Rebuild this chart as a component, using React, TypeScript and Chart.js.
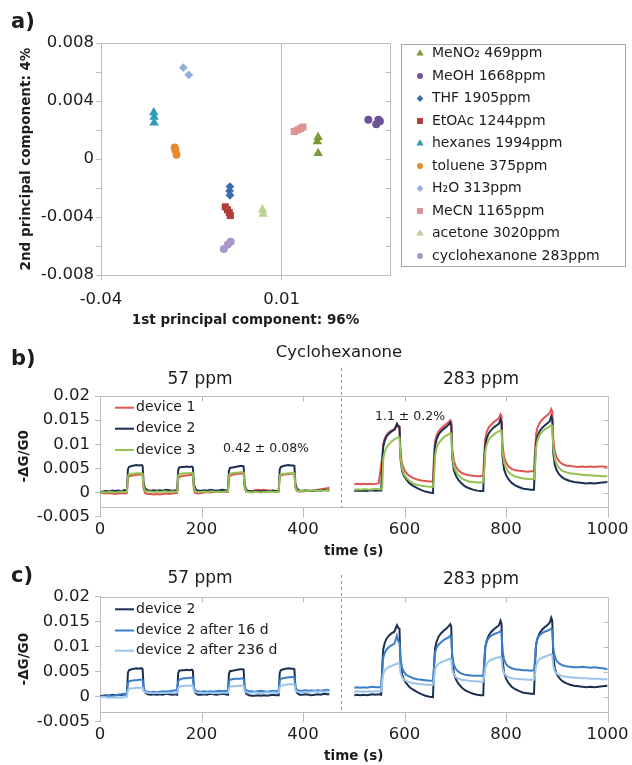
import React, { useEffect, useRef } from 'react';
import { Chart, registerables } from 'chart.js';

Chart.register(...registerables);

const SANS = '"DejaVu Sans", "Liberation Sans", sans-serif';
const INK = '#1c1c1c';
const FRAME = '#bdbdbd';

Chart.defaults.font.family = SANS;
Chart.defaults.color = INK;

// ---------- a) PCA scores (PC1, PC2) ----------
const pcaMeNO2 = [[0.0201, 0.0015], [0.0199, 0.0012], [0.0201, 0.0004]];
const pcaMeOH = [[0.034, 0.0027], [0.0362, 0.0024], [0.0368, 0.0027], [0.0372, 0.0026]];
const pcaTHF = [[-0.0043, -0.0019], [-0.0044, -0.0022], [-0.0043, -0.0025]];
const pcaEtOAc = [[-0.0056, -0.0033], [-0.005, -0.0035], [-0.0045, -0.0037], [-0.0042, -0.0039]];
const pcaHexanes = [[-0.0254, 0.0032], [-0.0253, 0.0029], [-0.0253, 0.0025]];
const pcaToluene = [[-0.0196, 0.0008], [-0.0194, 0.0006], [-0.0191, 0.0003]];
const pcaH2O = [[-0.0172, 0.0063], [-0.0157, 0.0058]];
const pcaMeCN = [[0.0135, 0.0019], [0.0144, 0.002], [0.0152, 0.0021], [0.0159, 0.0022]];
const pcaAcetone = [[0.0047, -0.0035], [0.0049, -0.0038]];
const pcaCyclohexanone = [[-0.006, -0.0062], [-0.0049, -0.0059], [-0.0041, -0.0057]];

const solventNames = [
  'MeNO₂ 469ppm', 'MeOH 1668ppm', 'THF 1905ppm', 'EtOAc 1244ppm', 'hexanes 1994ppm',
  'toluene 375ppm', 'H₂O 313ppm', 'MeCN 1165ppm', 'acetone 3020ppm', 'cyclohexanone 283ppm',
];
const solventScores = [
  pcaMeNO2, pcaMeOH, pcaTHF, pcaEtOAc, pcaHexanes,
  pcaToluene, pcaH2O, pcaMeCN, pcaAcetone, pcaCyclohexanone,
];
const solventColors = [
  '#7a9a35', '#6d529a', '#3a6db2', '#b33d38', '#2e9cba',
  '#e8892f', '#93b0da', '#dc9391', '#b9d290', '#a898c8',
];
const solventMarkers = [
  'triangle', 'circle', 'rectRot', 'rect', 'triangle',
  'circle', 'rectRot', 'rect', 'triangle', 'circle',
];

const pcaXTicks = [-0.04, 0.01];
const pcaXTickLabels = ['-0.04', '0.01'];
const pcaYTicks = [-0.008, -0.006, -0.004, -0.002, 0, 0.002, 0.004, 0.006, 0.008];
const pcaYTickLabels = ['-0.008', '', '-0.004', '', '0', '', '0.004', '', '0.008'];

// ---------- b), c) sensor responses, -ΔG/G0 versus time (s) ----------
const tLow = [
  0, 6, 12, 18, 24, 30, 36, 42, 48, 53,
  55, 57, 62, 67, 72, 77, 82, 84, 86, 89, 94,
  100, 106, 112, 118, 124, 130, 136, 142, 148, 152,
  154, 156, 161, 166, 171, 176, 181, 183, 185, 188, 193,
  199, 205, 211, 217, 223, 229, 235, 241, 247, 252,
  254, 256, 261, 266, 271, 276, 281, 283, 285, 288, 293,
  299, 305, 311, 317, 323, 329, 335, 341, 347, 352,
  354, 356, 361, 366, 371, 376, 381, 383, 385, 388, 393,
  399, 405, 411, 417, 423, 429, 435, 441, 447, 452,
];
const tHigh = [
  501, 507, 513, 519, 525, 531, 537, 543, 549, 554,
  556, 558, 561, 565, 570, 575, 580, 585, 588, 590,
  592, 595, 599, 604, 610, 617, 625, 633, 641, 649, 656,
  658, 660, 663, 667, 672, 677, 682, 687, 690, 692,
  694, 697, 701, 706, 712, 719, 727, 735, 743, 750, 755,
  757, 759, 762, 766, 771, 776, 781, 786, 789, 791,
  793, 796, 800, 805, 811, 818, 826, 834, 842, 849, 855,
  857, 859, 862, 866, 871, 876, 881, 886, 889, 891,
  893, 896, 900, 905, 911, 918, 926, 934, 942, 950, 958, 966, 974, 982, 990, 1000,
];

// device 1, 57 ppm / 283 ppm
const dev1Low = [
  0, -0.0001, -0.0002, -0.0001, -0.0002, -0.0003, -0.0002, -0.0001, -0.0002, -0.0001,
  0.003, 0.0034, 0.0035, 0.0036, 0.0037, 0.0037, 0.0038, 0.0036, 0.0008, -0.0001, -0.0003,
  -0.0003, -0.0004, -0.0003, -0.0004, -0.0003, -0.0002, -0.0003, -0.0002, -0.0001, -0.0001,
  0.0028, 0.0032, 0.0034, 0.0035, 0.0036, 0.0036, 0.0037, 0.0036, 0.0006, -0.0001, -0.0002,
  -0.0001, 0, 0.0001, 0, 0.0001, 0.0002, 0.0001, 0.0002, 0.0001, 0.0001,
  0.003, 0.0035, 0.0037, 0.0038, 0.0039, 0.0039, 0.004, 0.0039, 0.0009, 0.0002, 0.0002,
  0.0003, 0.0005, 0.0006, 0.0005, 0.0006, 0.0005, 0.0004, 0.0003, 0.0002, 0.0002,
  0.0032, 0.0036, 0.0037, 0.0038, 0.0038, 0.0039, 0.0039, 0.0038, 0.001, 0.0003, 0.0002,
  0.0002, 0.0003, 0.0004, 0.0004, 0.0005, 0.0006, 0.0007, 0.0008, 0.0009, 0.001,
];
const dev1High = [
  0.0017, 0.0018, 0.0017, 0.0018, 0.0017, 0.0018, 0.0017, 0.0018, 0.0019, 0.0058,
  0.0075, 0.01, 0.0112, 0.012, 0.0126, 0.0129, 0.0132, 0.0136, 0.0138, 0.0137,
  0.0085, 0.006, 0.0048, 0.004, 0.0034, 0.003, 0.0027, 0.0025, 0.0024, 0.0023, 0.0023,
  0.0075, 0.0105, 0.0118, 0.0127, 0.0133, 0.0138, 0.0142, 0.0146, 0.015, 0.0147,
  0.009, 0.0066, 0.0054, 0.0046, 0.0041, 0.0038, 0.0036, 0.0035, 0.0034, 0.0034, 0.0035,
  0.008, 0.0112, 0.0126, 0.0135, 0.0141, 0.0146, 0.015, 0.0154, 0.0162, 0.0158,
  0.0098, 0.0074, 0.0062, 0.0054, 0.0049, 0.0046, 0.0045, 0.0044, 0.0043, 0.0044, 0.0044,
  0.0085, 0.012, 0.0135, 0.0144, 0.0151, 0.0156, 0.016, 0.0165, 0.0173, 0.0168,
  0.011, 0.0085, 0.0072, 0.0064, 0.0059, 0.0056, 0.0055, 0.0054, 0.0053, 0.0054, 0.0053, 0.0054, 0.0053, 0.0054, 0.0054, 0.0053,
];

// device 2 (fresh), 57 ppm / 283 ppm
const dev2Low = [
  0.0001, 0.0002, 0.0003, 0.0002, 0.0004, 0.0003, 0.0004, 0.0003, 0.0005, 0.0004,
  0.0048, 0.0053, 0.0055, 0.0056, 0.0057, 0.0056, 0.0057, 0.0055, 0.0018, 0.0008, 0.0005,
  0.0004, 0.0005, 0.0004, 0.0005, 0.0004, 0.0006, 0.0005, 0.0004, 0.0005, 0.0004,
  0.0047, 0.0052, 0.0053, 0.0053, 0.0054, 0.0053, 0.0054, 0.0052, 0.0017, 0.0007, 0.0004,
  0.0004, 0.0005, 0.0004, 0.0006, 0.0005, 0.0004, 0.0005, 0.0006, 0.0005, 0.0004,
  0.0045, 0.0051, 0.0052, 0.0053, 0.0054, 0.0055, 0.0055, 0.0054, 0.0016, 0.0006, 0.0003,
  0.0002, 0.0002, 0.0003, 0.0002, 0.0003, 0.0002, 0.0003, 0.0004, 0.0003, 0.0003,
  0.0047, 0.0053, 0.0055, 0.0056, 0.0057, 0.0056, 0.0056, 0.0055, 0.0018, 0.0008, 0.0004,
  0.0004, 0.0005, 0.0004, 0.0003, 0.0004, 0.0005, 0.0004, 0.0006, 0.0005, 0.0005,
];
const dev2High = [
  0.0003, 0.0004, 0.0003, 0.0004, 0.0003, 0.0004, 0.0005, 0.0004, 0.0005, 0.0004,
  0.006, 0.0095, 0.0108, 0.0117, 0.0123, 0.0127, 0.013, 0.0143, 0.0137, 0.0136,
  0.007, 0.0045, 0.0034, 0.0026, 0.0019, 0.0014, 0.0009, 0.0005, 0.0002, 0, -0.0001,
  0.006, 0.0096, 0.011, 0.012, 0.0127, 0.0132, 0.0136, 0.0141, 0.0145, 0.014,
  0.0072, 0.0047, 0.0035, 0.0026, 0.0019, 0.0013, 0.0009, 0.0006, 0.0004, 0.0003, 0.0003,
  0.0062, 0.0098, 0.0113, 0.0123, 0.013, 0.0135, 0.0139, 0.0143, 0.0152, 0.0146,
  0.0074, 0.0048, 0.0036, 0.0027, 0.002, 0.0015, 0.0011, 0.0008, 0.0007, 0.0006, 0.0006,
  0.0065, 0.0102, 0.0117, 0.0127, 0.0134, 0.0139, 0.0143, 0.0148, 0.0158, 0.0152,
  0.0082, 0.0057, 0.0045, 0.0037, 0.0031, 0.0027, 0.0024, 0.0022, 0.0021, 0.002, 0.0019, 0.002, 0.0019, 0.002, 0.0021, 0.0022,
];

// device 3, 57 ppm / 283 ppm
const dev3Low = [
  0, 0.0001, 0, 0.0001, 0.0001, 0, 0.0001, 0.0002, 0.0001, 0.0001,
  0.0034, 0.0038, 0.0039, 0.0039, 0.004, 0.004, 0.004, 0.0039, 0.0012, 0.0004, 0.0002,
  0.0002, 0.0001, 0.0002, 0.0001, 0.0002, 0.0002, 0.0001, 0.0002, 0.0002, 0.0001,
  0.0034, 0.0038, 0.0039, 0.004, 0.004, 0.004, 0.0041, 0.004, 0.0011, 0.0003, 0.0001,
  0.0001, 0.0002, 0.0001, 0.0002, 0.0002, 0.0001, 0.0002, 0.0001, 0.0002, 0.0002,
  0.0035, 0.0039, 0.004, 0.0041, 0.0041, 0.0042, 0.0042, 0.0041, 0.0012, 0.0003, 0.0001,
  0, 0.0001, 0.0001, 0, 0.0001, 0.0001, 0.0002, 0.0001, 0.0001, 0.0002,
  0.0035, 0.0038, 0.0039, 0.0039, 0.004, 0.004, 0.004, 0.004, 0.0012, 0.0004, 0.0003,
  0.0003, 0.0004, 0.0003, 0.0004, 0.0005, 0.0004, 0.0005, 0.0004, 0.0005, 0.0005,
];
const dev3High = [
  0.0006, 0.0007, 0.0006, 0.0007, 0.0007, 0.0006, 0.0007, 0.0008, 0.0007, 0.0007,
  0.001, 0.007, 0.0085, 0.0094, 0.0101, 0.0106, 0.011, 0.0113, 0.0115, 0.0114,
  0.0075, 0.005, 0.0038, 0.003, 0.0024, 0.0019, 0.0016, 0.0014, 0.0013, 0.0012, 0.0012,
  0.003, 0.0075, 0.0092, 0.0102, 0.0109, 0.0114, 0.0118, 0.0121, 0.0123, 0.0122,
  0.0078, 0.0055, 0.0044, 0.0036, 0.003, 0.0026, 0.0023, 0.0022, 0.0021, 0.0021, 0.0021,
  0.0045, 0.0085, 0.01, 0.011, 0.0116, 0.012, 0.0124, 0.0127, 0.0129, 0.0128,
  0.0085, 0.0062, 0.005, 0.0042, 0.0037, 0.0033, 0.0031, 0.0029, 0.0028, 0.0028, 0.0028,
  0.005, 0.0092, 0.0109, 0.0119, 0.0126, 0.0131, 0.0134, 0.0137, 0.014, 0.0138,
  0.0095, 0.007, 0.0058, 0.005, 0.0045, 0.0042, 0.004, 0.0039, 0.0038, 0.0037, 0.0036, 0.0036, 0.0035, 0.0035, 0.0034, 0.0034,
];

// device 2 after 16 days
const aged16Low = [
  0, 0, 0.0001, 0.0002, 0.0001, 0.0003, 0.0004, 0.0005, 0.0006, 0.0006,
  0.0027, 0.0031, 0.0032, 0.0033, 0.0033, 0.0034, 0.0034, 0.0033, 0.0016, 0.0011, 0.001,
  0.0009, 0.001, 0.0009, 0.001, 0.0011, 0.001, 0.0011, 0.0012, 0.0013, 0.0012,
  0.003, 0.0034, 0.0036, 0.0037, 0.0037, 0.0038, 0.0038, 0.0037, 0.0018, 0.0012, 0.0011,
  0.001, 0.0011, 0.001, 0.0011, 0.001, 0.0011, 0.0012, 0.0011, 0.0012, 0.0011,
  0.003, 0.0034, 0.0035, 0.0036, 0.0036, 0.0036, 0.0037, 0.0036, 0.0018, 0.0013, 0.0011,
  0.0011, 0.001, 0.0011, 0.0012, 0.0011, 0.001, 0.0011, 0.0012, 0.0011, 0.0012,
  0.0032, 0.0036, 0.0037, 0.0038, 0.0039, 0.0039, 0.004, 0.0039, 0.0019, 0.0013, 0.0012,
  0.0012, 0.0013, 0.0012, 0.0013, 0.0012, 0.0013, 0.0012, 0.0013, 0.0014, 0.0013,
];
const aged16High = [
  0.0018, 0.0019, 0.0018, 0.0019, 0.0018, 0.0019, 0.002, 0.0019, 0.0019, 0.0019,
  0.005, 0.0078, 0.0088, 0.0095, 0.01, 0.0103, 0.0106, 0.0122, 0.011, 0.0108,
  0.0075, 0.0058, 0.0049, 0.0043, 0.004, 0.0037, 0.0035, 0.0034, 0.0033, 0.0032, 0.0032,
  0.0058, 0.0088, 0.0098, 0.0104, 0.0109, 0.0113, 0.0116, 0.0119, 0.0122, 0.0118,
  0.0082, 0.0064, 0.0055, 0.005, 0.0046, 0.0044, 0.0043, 0.0042, 0.0042, 0.0042, 0.0042,
  0.007, 0.01, 0.0111, 0.0118, 0.0122, 0.0125, 0.0127, 0.0129, 0.0131, 0.0128,
  0.0092, 0.0074, 0.0065, 0.006, 0.0057, 0.0055, 0.0054, 0.0053, 0.0053, 0.0052, 0.0053,
  0.0075, 0.0106, 0.0117, 0.0123, 0.0127, 0.013, 0.0132, 0.0134, 0.0136, 0.0133,
  0.0098, 0.008, 0.0071, 0.0066, 0.0063, 0.0061, 0.006, 0.0059, 0.0059, 0.006, 0.0059, 0.0058, 0.0059, 0.0058, 0.0057, 0.0055,
];

// device 2 after 236 days
const aged236Low = [
  -0.0001, 0, -0.0001, -0.0002, -0.0001, -0.0002, -0.0001, -0.0002, -0.0001, 0,
  0.0013, 0.0016, 0.0017, 0.0017, 0.0018, 0.0018, 0.0018, 0.0018, 0.0011, 0.0009, 0.0008,
  0.0008, 0.0007, 0.0008, 0.0007, 0.0008, 0.0007, 0.0008, 0.0008, 0.0007, 0.0008,
  0.0017, 0.002, 0.0021, 0.0022, 0.0022, 0.0022, 0.0023, 0.0022, 0.0012, 0.0009, 0.0008,
  0.0008, 0.0007, 0.0008, 0.0008, 0.0007, 0.0008, 0.0007, 0.0008, 0.0008, 0.0008,
  0.0016, 0.002, 0.0021, 0.0021, 0.0022, 0.0022, 0.0022, 0.0022, 0.0012, 0.0009, 0.0008,
  0.0008, 0.0009, 0.0008, 0.0007, 0.0008, 0.0009, 0.0008, 0.0009, 0.0008, 0.0008,
  0.0018, 0.0022, 0.0023, 0.0024, 0.0025, 0.0025, 0.0025, 0.0025, 0.0013, 0.001, 0.0009,
  0.0009, 0.001, 0.0009, 0.001, 0.0011, 0.001, 0.0011, 0.001, 0.0011, 0.001,
];
const aged236High = [
  0.001, 0.0011, 0.001, 0.0011, 0.001, 0.0011, 0.001, 0.0011, 0.0011, 0.0011,
  0.003, 0.0045, 0.0052, 0.0057, 0.006, 0.0062, 0.0064, 0.0066, 0.0067, 0.0066,
  0.0048, 0.0039, 0.0034, 0.0031, 0.0029, 0.0027, 0.0026, 0.0025, 0.0024, 0.0024, 0.0024,
  0.0035, 0.0054, 0.0061, 0.0066, 0.0069, 0.0071, 0.0073, 0.0075, 0.0076, 0.0074,
  0.0054, 0.0044, 0.0039, 0.0036, 0.0034, 0.0033, 0.0032, 0.0031, 0.0031, 0.003, 0.003,
  0.004, 0.0058, 0.0066, 0.0071, 0.0074, 0.0076, 0.0078, 0.0079, 0.008, 0.0078,
  0.0057, 0.0047, 0.0042, 0.0039, 0.0037, 0.0036, 0.0035, 0.0035, 0.0034, 0.0034, 0.0034,
  0.0043, 0.0062, 0.007, 0.0075, 0.0078, 0.008, 0.0082, 0.0084, 0.0085, 0.0083,
  0.0062, 0.0051, 0.0046, 0.0043, 0.0041, 0.004, 0.0039, 0.0038, 0.0038, 0.0037, 0.0037, 0.0036, 0.0036, 0.0036, 0.0035, 0.0035,
];

const timeTicks = [0, 200, 400, 600, 800, 1000];
const timeTickLabels = ['0', '200', '400', '600', '800', '1000'];
const responseTicks = [-0.005, 0, 0.005, 0.01, 0.015, 0.02];
const responseTickLabels = ['-0.005', '0', '0.005', '0.01', '0.015', '0.02'];
const timeAxisCrossing = -0.003; // where the time axis meets the response axis
const concentrationSwitchTime = 475; // 57 ppm -> 283 ppm

const RED = '#df5650';
const NAVY = '#1b2f52';
const GREEN = '#93c152';
const MID_BLUE = '#3a7fcb';
const LIGHT_BLUE = '#9cc4ec';

// ---------- drawing helpers ----------
function markerPath(ctx: CanvasRenderingContext2D, style: string, x: number, y: number, r: number) {
  ctx.beginPath();
  if (style === 'circle') {
    ctx.arc(x, y, r, 0, Math.PI * 2);
  } else if (style === 'rect') {
    const s = r * Math.SQRT1_2;
    ctx.rect(x - s, y - s, 2 * s, 2 * s);
  } else if (style === 'rectRot') {
    ctx.moveTo(x, y - r);
    ctx.lineTo(x + r, y);
    ctx.lineTo(x, y + r);
    ctx.lineTo(x - r, y);
    ctx.closePath();
  } else {
    ctx.moveTo(x, y - r);
    ctx.lineTo(x + r * 0.866, y + r * 0.5);
    ctx.lineTo(x - r * 0.866, y + r * 0.5);
    ctx.closePath();
  }
  ctx.fill();
}

const crisp = (v: number) => Math.round(v) + 0.5;

const markerRadius: Record<string, number> = { triangle: 5.5, circle: 4, rectRot: 4.4, rect: 5 };
const legendMarkerRadius: Record<string, number> = { triangle: 4.2, circle: 3, rectRot: 3.4, rect: 4.2 };

const tickFont = { size: 16.5 };
const letterFont = `bold 21px ${SANS}`;

const pcaDecor = {
  id: 'pcaDecor',
  beforeDatasetsDraw(chart: any) {
    const { ctx, chartArea: a, scales } = chart;
    ctx.save();
    ctx.strokeStyle = FRAME;
    ctx.lineWidth = 1;
    const top = crisp(a.top);
    const right = crisp(a.right);
    ctx.beginPath();
    ctx.moveTo(a.left, top);
    ctx.lineTo(right, top);
    ctx.lineTo(right, a.bottom);
    pcaYTicks.forEach((v) => {
      const py = crisp(scales.y.getPixelForValue(v));
      ctx.moveTo(right - 5, py);
      ctx.lineTo(right, py);
    });
    ctx.stroke();
    ctx.restore();
  },
  afterDraw(chart: any) {
    const { ctx } = chart;
    ctx.save();
    ctx.fillStyle = INK;
    ctx.font = letterFont;
    ctx.textBaseline = 'middle';
    ctx.textAlign = 'left';
    ctx.fillText('a)', 11, 23);

    // legend box
    ctx.strokeStyle = '#a8a8a8';
    ctx.lineWidth = 1;
    ctx.strokeRect(401.5, 44.5, 224, 222);
    ctx.font = `14px ${SANS}`;
    solventNames.forEach((name, i) => {
      const y = 53.5 + i * 22.5;
      ctx.fillStyle = solventColors[i];
      markerPath(ctx, solventMarkers[i], 420, y, legendMarkerRadius[solventMarkers[i]]);
      ctx.fillStyle = INK;
      ctx.fillText(name, 432, y);
    });
    ctx.restore();
  },
};

type TraceSeries = { label: string; color: string; low: number[]; high: number[]; order: number };
type PanelText = { text: string; x: number; y: number; font: string; align?: CanvasTextAlign };
type TraceDecor = { texts: PanelText[]; dividerTop: number; legendRows: number[]; series: TraceSeries[] };

function makeTraceDecor(decor: TraceDecor) {
  return {
    id: 'traceDecor',
    beforeDatasetsDraw(chart: any) {
      const { ctx, chartArea: a, scales } = chart;
      const px = (v: number) => crisp(scales.x.getPixelForValue(v));
      const py = (v: number) => crisp(scales.y.getPixelForValue(v));
      const axisY = py(timeAxisCrossing);
      const top = crisp(a.top);
      const right = px(timeTicks[timeTicks.length - 1]);
      ctx.save();
      ctx.strokeStyle = FRAME;
      ctx.lineWidth = 1;
      ctx.beginPath();
      ctx.moveTo(a.left, axisY);
      ctx.lineTo(right, axisY);
      ctx.moveTo(a.left, top);
      ctx.lineTo(right, top);
      ctx.lineTo(right, axisY);
      timeTicks.forEach((t, i) => {
        const x = px(t);
        ctx.moveTo(x, axisY);
        ctx.lineTo(x, axisY + 10);
        if (i > 0 && i < timeTicks.length - 1) {
          ctx.moveTo(x, top);
          ctx.lineTo(x, top + 5);
        }
      });
      responseTicks.forEach((v, i) => {
        if (v > timeAxisCrossing && i < responseTicks.length - 1) {
          ctx.moveTo(right - 5, py(v));
          ctx.lineTo(right, py(v));
        }
      });
      ctx.stroke();

      // dashed divider between the two concentrations
      ctx.strokeStyle = '#9a9a9a';
      ctx.setLineDash([3, 3]);
      ctx.beginPath();
      const dx = px(concentrationSwitchTime);
      ctx.moveTo(dx, decor.dividerTop);
      ctx.lineTo(dx, axisY);
      ctx.stroke();
      ctx.restore();
    },
    afterDraw(chart: any) {
      const { ctx } = chart;
      ctx.save();
      ctx.textBaseline = 'middle';
      ctx.fillStyle = INK;
      decor.texts.forEach((t) => {
        ctx.font = t.font;
        ctx.textAlign = t.align || 'center';
        ctx.fillText(t.text, t.x, t.y);
      });
      // legend
      ctx.font = `14px ${SANS}`;
      ctx.textAlign = 'left';
      decor.series.forEach((s, i) => {
        const y = decor.legendRows[i];
        ctx.strokeStyle = s.color;
        ctx.lineWidth = 2;
        ctx.beginPath();
        ctx.moveTo(115, y);
        ctx.lineTo(134, y);
        ctx.stroke();
        ctx.fillStyle = INK;
        ctx.fillText(s.label, 136, y);
      });
      ctx.restore();
    },
  };
}

function joinSegments(low: number[], high: number[]) {
  return [
    ...tLow.map((x, i) => ({ x, y: low[i] })),
    { x: concentrationSwitchTime, y: null },
    ...tHigh.map((x, i) => ({ x, y: high[i] })),
  ];
}

const axisTitleFont = { size: 13.5, weight: 'bold' as const, lineHeight: 1.2 };

function traceConfig(series: TraceSeries[], decor: TraceDecor, top: number): any {
  return {
    type: 'line',
    data: {
      datasets: series.map((s) => ({
        label: s.label,
        data: joinSegments(s.low, s.high),
        borderColor: s.color,
        backgroundColor: s.color,
        borderWidth: 2,
        pointRadius: 0,
        tension: 0,
        spanGaps: false,
        order: s.order,
      })),
    },
    options: {
      responsive: false,
      animation: false,
      events: [],
      layout: { padding: { top, right: 20.7, bottom: 0, left: 0 } },
      plugins: { legend: { display: false }, tooltip: { enabled: false } },
      scales: {
        x: {
          type: 'linear',
          min: 0,
          max: 1000,
          afterBuildTicks: (s: any) => {
            s.ticks = timeTicks.map((value) => ({ value }));
          },
          afterFit: (s: any) => {
            s.height = 43.3;
          },
          ticks: {
            autoSkip: false,
            maxRotation: 0,
            padding: 3.4,
            font: tickFont,
            color: INK,
            callback: (_v: any, i: number) => timeTickLabels[i],
          },
          grid: { display: false, drawTicks: false },
          border: { display: false },
          title: {
            display: true,
            text: 'time (s)',
            font: axisTitleFont,
            color: INK,
            padding: { top: 0, bottom: 0.5 },
          },
        },
        y: {
          type: 'linear',
          min: -0.005,
          max: 0.02,
          afterBuildTicks: (s: any) => {
            s.ticks = responseTicks.map((value) => ({ value }));
          },
          afterFit: (s: any) => {
            s.width = 100;
          },
          ticks: {
            autoSkip: false,
            padding: 5,
            font: tickFont,
            color: INK,
            callback: (_v: any, i: number) => responseTickLabels[i],
          },
          grid: { drawOnChartArea: false, tickLength: 5, color: FRAME },
          border: { display: true, color: FRAME },
          title: {
            display: true,
            text: '-ΔG/G0',
            font: axisTitleFont,
            color: INK,
            padding: { top: 16.6, bottom: 0 },
          },
        },
      },
    },
    plugins: [makeTraceDecor(decor)],
  };
}

function pcaConfig(): any {
  return {
    type: 'scatter',
    data: {
      datasets: solventNames.map((name, i) => ({
        label: name,
        data: solventScores[i].map(([x, y]) => ({ x, y })),
        pointStyle: solventMarkers[i],
        pointRadius: markerRadius[solventMarkers[i]],
        backgroundColor: solventColors[i],
        borderColor: solventColors[i],
        borderWidth: 0,
      })),
    },
    options: {
      responsive: false,
      animation: false,
      events: [],
      layout: { padding: { left: 0, top: 43, right: 242, bottom: 0 } },
      plugins: { legend: { display: false }, tooltip: { enabled: false } },
      scales: {
        x: {
          type: 'linear',
          min: -0.04,
          max: 0.04,
          afterBuildTicks: (s: any) => {
            s.ticks = pcaXTicks.map((value) => ({ value }));
          },
          afterFit: (s: any) => {
            s.height = 55;
          },
          ticks: {
            autoSkip: false,
            maxRotation: 0,
            padding: 10.1,
            font: tickFont,
            color: INK,
            callback: (_v: any, i: number) => pcaXTickLabels[i],
          },
          grid: { color: FRAME, tickLength: 5, drawOnChartArea: true },
          border: { color: FRAME },
          title: {
            display: true,
            text: '1st principal component: 96%',
            font: axisTitleFont,
            color: INK,
            padding: { top: 0, bottom: 1.6 },
          },
        },
        y: {
          type: 'linear',
          min: -0.008,
          max: 0.008,
          afterBuildTicks: (s: any) => {
            s.ticks = pcaYTicks.map((value) => ({ value }));
          },
          afterFit: (s: any) => {
            s.width = 101;
          },
          ticks: {
            autoSkip: false,
            padding: 2,
            font: tickFont,
            color: INK,
            callback: (_v: any, i: number) => pcaYTickLabels[i],
          },
          grid: { color: FRAME, tickLength: 5, drawOnChartArea: false },
          border: { color: FRAME },
          title: {
            display: true,
            text: '2nd principal component: 4%',
            font: axisTitleFont,
            color: INK,
            padding: { top: 18.6, bottom: 0 },
          },
        },
      },
    },
    plugins: [pcaDecor],
  };
}

const devicesSeries: TraceSeries[] = [
  { label: 'device 1', color: RED, low: dev1Low, high: dev1High, order: 2 },
  { label: 'device 2', color: NAVY, low: dev2Low, high: dev2High, order: 1 },
  { label: 'device 3', color: GREEN, low: dev3Low, high: dev3High, order: 0 },
];
const agingSeries: TraceSeries[] = [
  { label: 'device 2', color: NAVY, low: dev2Low, high: dev2High, order: 2 },
  { label: 'device 2 after 16 d', color: MID_BLUE, low: aged16Low, high: aged16High, order: 1 },
  { label: 'device 2 after 236 d', color: LIGHT_BLUE, low: aged236Low, high: aged236High, order: 0 },
];

const headingFont = `17px ${SANS}`;
const noteFont = `12.5px ${SANS}`;

const devicesDecor: TraceDecor = {
  series: devicesSeries,
  dividerTop: 38,
  legendRows: [77.7, 98.7, 120],
  texts: [
    { text: 'b)', x: 11, y: 30, font: letterFont, align: 'left' },
    { text: 'Cyclohexanone', x: 339, y: 23, font: `16.5px ${SANS}` },
    { text: '57 ppm', x: 200, y: 50, font: headingFont },
    { text: '283 ppm', x: 481, y: 50, font: headingFont },
    { text: '0.42 ± 0.08%', x: 266, y: 119, font: noteFont },
    { text: '1.1 ± 0.2%', x: 410, y: 87, font: noteFont },
  ],
};
const agingDecor: TraceDecor = {
  series: agingSeries,
  dividerTop: 15,
  legendRows: [49.3, 70.5, 90.7],
  texts: [
    { text: 'c)', x: 11, y: 17, font: letterFont, align: 'left' },
    { text: '57 ppm', x: 200, y: 19, font: headingFont },
    { text: '283 ppm', x: 481, y: 20, font: headingFont },
  ],
};

export default function App() {
  const pcaRef = useRef<HTMLCanvasElement>(null);
  const devicesRef = useRef<HTMLCanvasElement>(null);
  const agingRef = useRef<HTMLCanvasElement>(null);

  useEffect(() => {
    const charts = [
      new Chart(pcaRef.current as HTMLCanvasElement, pcaConfig()),
      new Chart(devicesRef.current as HTMLCanvasElement, traceConfig(devicesSeries, devicesDecor, 66)),
      new Chart(agingRef.current as HTMLCanvasElement, traceConfig(agingSeries, agingDecor, 36.7)),
    ];
    return () => charts.forEach((c) => c.destroy());
  }, []);

  return (
    <div style={{ position: 'absolute', left: 0, top: 0, width: 632, height: 765, background: '#ffffff', overflow: 'hidden' }}>
      <canvas ref={pcaRef} width={632} height={330} style={{ position: 'absolute', left: 0, top: 0 }} />
      <canvas ref={devicesRef} width={632} height={230} style={{ position: 'absolute', left: 0, top: 330 }} />
      <canvas ref={agingRef} width={632} height={205} style={{ position: 'absolute', left: 0, top: 560 }} />
    </div>
  );
}
